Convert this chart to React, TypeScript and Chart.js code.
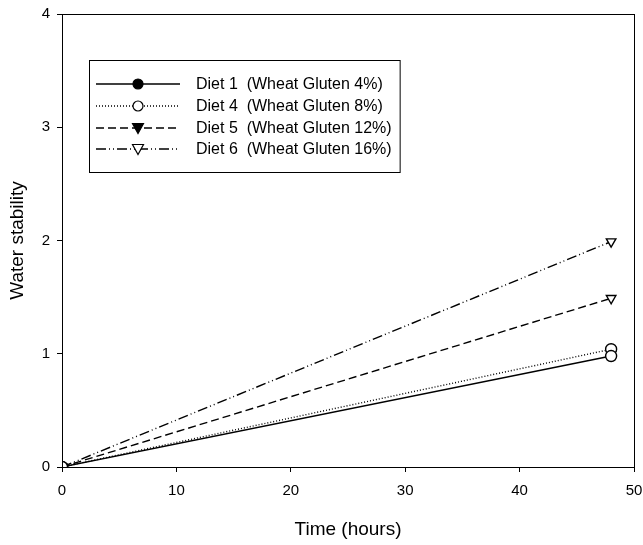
import React, { useEffect, useRef } from "react";
import { Chart, registerables } from "chart.js";
Chart.register(...registerables);

const hours = [0, 48];
const diet1 = [0, 0.98];
const diet4 = [0, 1.04];
const diet5 = [0, 1.49];
const diet6 = [0, 1.99];
const seriesNames = [
  "Diet 1  (Wheat Gluten 4%)",
  "Diet 4  (Wheat Gluten 8%)",
  "Diet 5  (Wheat Gluten 12%)",
  "Diet 6  (Wheat Gluten 16%)",
];
const xTicks = [0, 10, 20, 30, 40, 50];
const yTicks = [0, 1, 2, 3, 4];

const dashes = [[], [1, 2], [8, 4], [10, 3, 1, 3, 1, 3]];
const legendStyle = [
  { shape: "circle", filled: true },
  { shape: "circle", filled: false },
  { shape: "tri", filled: true },
  { shape: "tri", filled: false },
];

const FONT = "Arial, 'Liberation Sans', sans-serif";

function drawMarker(ctx: CanvasRenderingContext2D, x: number, y: number, shape: string, filled: boolean) {
  ctx.save();
  ctx.setLineDash([]);
  ctx.lineWidth = 1.2;
  ctx.strokeStyle = "#000";
  ctx.fillStyle = filled ? "#000" : "#fff";
  ctx.beginPath();
  if (shape === "circle") {
    ctx.arc(x, y, 5, 0, Math.PI * 2);
  } else {
    ctx.moveTo(x - 5.5, y - 4.5);
    ctx.lineTo(x + 5.5, y - 4.5);
    ctx.lineTo(x, y + 5.5);
    ctx.closePath();
  }
  ctx.fill();
  ctx.stroke();
  ctx.restore();
}

const framePlugin = {
  id: "frameLegend",
  afterDraw(chart: any) {
    const { ctx, chartArea } = chart;
    ctx.save();
    ctx.strokeStyle = "#000";
    ctx.lineWidth = 1;
    ctx.strokeRect(chartArea.left + 0.5, chartArea.top + 0.5, chartArea.right - chartArea.left, chartArea.bottom - chartArea.top);
    ctx.font = `16px ${FONT}`;
    const textW = Math.max(...seriesNames.map((n) => ctx.measureText(n).width));
    const bx = 89, by = 60, bh = 112;
    const bw = 196 + textW + 8 - bx;
    ctx.strokeRect(bx + 0.5, by + 0.5, bw, bh);
    const rows = [84, 106, 128, 149];
    seriesNames.forEach((name, i) => {
      const y = rows[i];
      ctx.beginPath();
      ctx.setLineDash(dashes[i]);
      ctx.lineWidth = 1.3;
      ctx.moveTo(96, y);
      ctx.lineTo(180, y);
      ctx.stroke();
      ctx.setLineDash([]);
      drawMarker(ctx, 138, y, legendStyle[i].shape, legendStyle[i].filled);
      ctx.fillStyle = "#000";
      ctx.font = `16px ${FONT}`;
      ctx.textBaseline = "middle";
      ctx.textAlign = "left";
      ctx.fillText(name, 196, y + 1);
    });
    ctx.restore();
  },
};

export default function App() {
  const ref = useRef<HTMLCanvasElement>(null);
  useEffect(() => {
    if (!ref.current) return;
    const data = [diet1, diet4, diet5, diet6];
    const chart = new Chart(ref.current, {
      type: "line",
      data: {
        datasets: data.map((vals, i) => ({
          label: seriesNames[i],
          data: hours.map((h, j) => ({ x: h, y: vals[j] })),
          borderColor: "#000",
          borderWidth: 1.4,
          borderDash: dashes[i],
          pointStyle: legendStyle[i].shape === "circle" ? "circle" : "triangle",
          rotation: legendStyle[i].shape === "circle" ? 0 : 180,
          pointRadius: 5.5,
          pointBackgroundColor: "#fff",
          pointBorderColor: "#000",
          pointBorderWidth: 1.4,
          fill: false,
        })),
      },
      options: {
        animation: false,
        responsive: false,
        layout: { padding: { top: 14, right: 9, left: 0, bottom: 0 } },
        plugins: { legend: { display: false }, tooltip: { enabled: false } },
        scales: {
          x: {
            type: "linear",
            min: 0,
            max: 50,
            afterBuildTicks: (s: any) => { s.ticks = xTicks.map((v) => ({ value: v })); },
            afterFit: (s: any) => { s.height = 78; s.paddingLeft = 0; s.paddingRight = 0; },
            grid: { drawOnChartArea: false, drawTicks: true, tickLength: 5, color: "#000" },
            border: { display: true, color: "#000" },
            ticks: { color: "#000", font: { family: FONT, size: 15 }, padding: 10, maxRotation: 0 },
            title: { display: true, text: "Time (hours)", color: "#000", font: { family: FONT, size: 19 }, padding: { top: 6 } },
          },
          y: {
            type: "linear",
            min: 0,
            max: 4,
            afterBuildTicks: (s: any) => { s.ticks = yTicks.map((v) => ({ value: v })); },
            afterFit: (s: any) => { s.width = 62; s.paddingTop = 0; s.paddingBottom = 0; },
            grid: { drawOnChartArea: false, drawTicks: true, tickLength: 5, color: "#000" },
            border: { display: true, color: "#000" },
            ticks: { color: "#000", font: { family: FONT, size: 15 }, padding: 7 },
            title: { display: true, text: "Water stability", color: "#000", font: { family: FONT, size: 19 }, padding: { top: 6, bottom: 4 } },
          },
        },
      },
      plugins: [framePlugin],
    });
    return () => chart.destroy();
  }, []);
  return (
    <div style={{ position: "absolute", left: 0, top: 0, width: 643, height: 545, overflow: "hidden" }}>
      <canvas ref={ref} width={643} height={545} style={{ display: "block" }} />
    </div>
  );
}
